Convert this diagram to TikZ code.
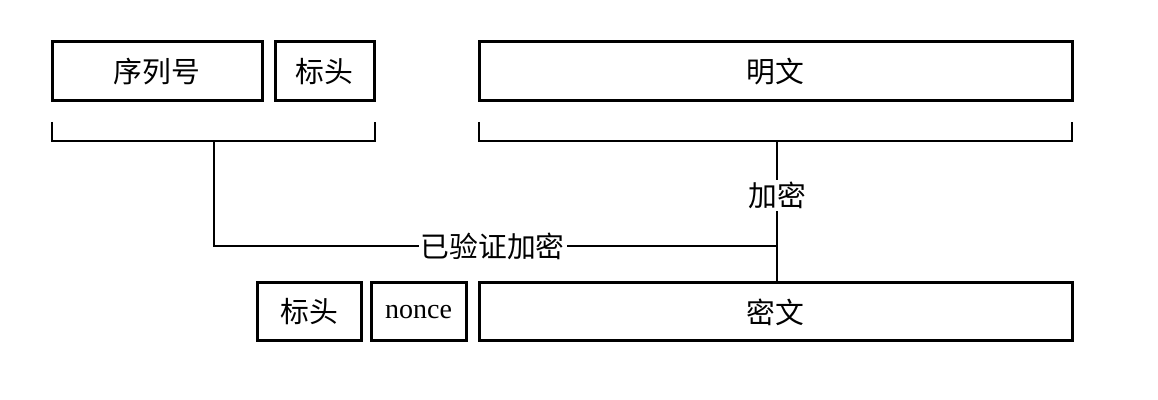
\documentclass[tikz,border=0pt]{standalone}
\usepackage{fontspec}
\setmainfont{Liberation Serif}
\newfontfamily\cjk{Noto Sans CJK SC}
\begin{document}
\begin{tikzpicture}[x=0.5pt,y=-0.5pt,
  field/.style={draw,line width=1.5pt,inner sep=0pt,font=\fontsize{14.4}{16}\selectfont\cjk},
  thin/.style={line width=0.75pt},
  lbl/.style={fill=white,inner sep=1pt,font=\fontsize{14.4}{16}\selectfont\cjk}]
\useasboundingbox (0,0) rectangle (1158,400);
% top row
\node[field,minimum width=105pt,minimum height=29.5pt] (seq) at (157,71.5) {序列号};
\node[field,minimum width=49.5pt,minimum height=29.5pt] (hdr) at (324.5,71.5) {标头};
\node[field,minimum width=296.5pt,minimum height=29.5pt] (pt) at (775.5,71.5) {明文};
% bottom row
\node[field,minimum width=52pt,minimum height=29pt] (hdr2) at (309,312) {标头};
\node[field,minimum width=47.5pt,minimum height=29pt,font=\fontsize{14}{15}\selectfont\rmfamily] (nonce) at (418.5,312) {nonce};
\node[field,minimum width=296.5pt,minimum height=29pt] (ct) at (775.5,312) {密文};
% brackets
\coordinate (lb) at (214,141);
\coordinate (rb) at (777,141);
\coordinate (corner) at (214,246);
\coordinate (join) at (777,246);
\draw[thin] (52,122) -- (52,141) -- (375,141) -- (375,122);
\draw[thin] (479,122) -- (479,141) -- (1072,141) -- (1072,122);
% connectors
\draw[thin] (rb) -- (rb |- ct.north) node[lbl,pos=0.39] (enc) {加密};
\draw[thin] (lb) -- (corner) -- (join) node[lbl,pos=0.495] (aead) {已验证加密};
\end{tikzpicture}
\end{document}
